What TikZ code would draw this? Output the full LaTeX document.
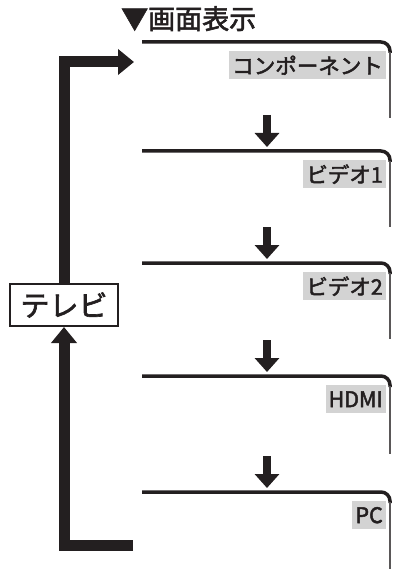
\documentclass[tikz,border=0pt]{standalone}
\usepackage{fontspec}
\setmainfont{Noto Sans CJK JP}[FakeBold=2.2]
\usetikzlibrary{arrows.meta,positioning}
\definecolor{labelgray}{RGB}{211,211,211}
\definecolor{ink}{RGB}{35,31,32}
\begin{document}
\begin{tikzpicture}[x=1pt,y=-1pt,line join=miter,color=ink,font=\fontsize{21.5}{24}\selectfont,
	loopline/.style={line width=11pt,-{Triangle[width=25pt,length=16pt]}},
	stepdown/.style={line width=8pt,-{Triangle[width=24pt,length=14pt]}},
	lbl/.style={fill=labelgray,inner xsep=3pt,inner ysep=2pt,minimum height=28pt,anchor=north east,text=ink}]
	\useasboundingbox (0,0) rectangle (393,569);
	\def\xl{142}\def\xr{390}\def\xa{267}
	\node[anchor=north west,inner sep=0pt,font=\fontsize{27}{28}\selectfont] (title) at (121,6) {▼画面表示};
	% screens, one after another
	\foreach \y/\b/\lab/\name in {42/118/コンポーネント/comp,151/227/ビデオ1/vida,263/339/ビデオ2/vidb,376/454/HDMI/hdmi,492/569/PC/pc}{
		\draw[line width=3.5pt,rounded corners=9pt] (\xl,\y) -- (\xr,\y) -- (\xr,\y+11);
		\draw[line width=1.6pt,ink!75] (\xr,\y+10) -- (\xr,\b);
		\node[lbl] (\name) at (386,\y+9) {\lab};
	}
	\foreach \y in {151,263,376,492} \draw[stepdown] (\xa,\y-36) -- (\xa,\y-4);
	% input key loop
	\node[draw,fill=white,line width=2pt,inner sep=0pt,minimum width=108pt,minimum height=42pt,font=\fontsize{29}{32}\selectfont] (tv) at (64,305) {テレビ};
	\coordinate (compin) at (134,62);
	\coordinate (pcout) at (133,545);
	\draw[loopline] (tv.north) |- (compin);
	\draw[loopline] (pcout) -| (tv.south);
\end{tikzpicture}
\end{document}
